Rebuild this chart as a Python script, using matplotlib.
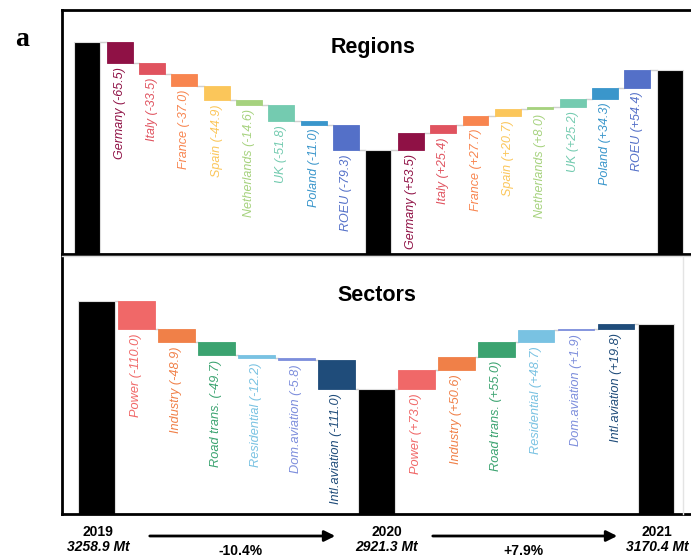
import matplotlib.pyplot as plt
from matplotlib.lines import Line2D

# emissions totals (Mt)
total_2019 = 3258.9
total_2020 = 2921.3
total_2021 = 3170.4
change_labels = ["-10.4%", "+7.9%"]

regions = ["Germany", "Italy", "France", "Spain", "Netherlands", "UK", "Poland", "ROEU"]
region_drop = [-65.5, -33.5, -37.0, -44.9, -14.6, -51.8, -11.0, -79.3]
region_rise = [53.5, 25.4, 27.7, 20.7, 8.0, 25.2, 34.3, 54.4]
region_colors = ["#8f1145", "#e0535f", "#f8854f", "#fbc65a", "#a6d27e", "#74cbb0", "#3a96cb", "#5470c8"]

sectors = ["Power", "Industry", "Road trans.", "Residential", "Dom.aviation", "Intl.aviation"]
sector_drop = [-110.0, -48.9, -49.7, -12.2, -5.8, -111.0]
sector_rise = [73.0, 50.6, 55.0, 48.7, 1.9, 19.8]
sector_colors = ["#f06868", "#f08048", "#3ba370", "#79c2e2", "#7d8edc", "#1f4c7a"]

W, H = 691, 558
plt.rcParams["font.family"] = ["Liberation Sans", "DejaVu Sans"]


def waterfall(ax, names, drops, rises, colors, width, label_size):
    x = 0
    level = total_2019
    levels = []
    ax.bar(x, total_2019, width=width, color="black", edgecolor="#dddddd", lw=0.8)
    levels.append((x, level))
    for group, sign in ((drops, "-"), (rises, "+")):
        for name, d, c in zip(names, group, colors):
            x += 1
            bottom = min(level, level + d)
            ax.bar(x, abs(d), bottom=bottom, width=width, color=c,
                   edgecolor=c, lw=0.6)
            ax.annotate(f"{name} ({sign}{abs(d):.1f})", (x, bottom),
                        xytext=(0, -3), textcoords="offset points",
                        rotation=90, ha="center", va="top", color=c,
                        style="italic", fontsize=label_size)
            level += d
            levels.append((x, level))
        x += 1
        end = total_2020 if sign == "-" else total_2021
        ax.bar(x, end, width=width, color="black", edgecolor="#dddddd", lw=0.8)
        level = end
        levels.append((x, level))
    # connector lines
    for (x0, y0), (x1, _) in zip(levels[:-1], levels[1:]):
        ax.plot([x0 + width / 2, x1 - width / 2], [y0, y0], color="#d0d0d0", lw=1, zorder=0)
    return x


fig = plt.figure(figsize=(W / 100, H / 100), dpi=100)

ax1 = fig.add_axes([62 / W, 1 - 254 / H, 629 / W, 244 / H])
n1 = waterfall(ax1, regions, region_drop, region_rise, region_colors, 0.8, 9)
ax1.set_xlim(-0.78, n1 + 0.66)
ax1.set_ylim(2596, 3359)
ax1.set_title("Regions", fontsize=15.5, fontweight="bold", x=0.494, y=0.79)

ax2 = fig.add_axes([62 / W, 1 - 514 / H, 629 / W, 258 / H])
n2 = waterfall(ax2, sectors, sector_drop, sector_rise, sector_colors, 0.92, 9.2)
ax2.set_xlim(-0.86, n2 + 0.875)
ax2.set_ylim(2443, 3430)
ax2.set_title("Sectors", fontsize=15.5, fontweight="bold", x=0.5, y=0.795)

for ax in (ax1, ax2):
    ax.set_xticks([])
    ax.set_yticks([])
    for s in ax.spines.values():
        s.set_linewidth(2)
        s.set_color("black")
    ax.spines["right"].set_visible(False)
ax2.spines["top"].set_color("#dddddd")
ax2.spines["top"].set_linewidth(1)
fig.add_artist(Line2D([683 / W, 683 / W], [1 - 514 / H, 1 - 257 / H], color="#e4e4e4", lw=1))


# bottom annotations
def ftext(px, py, s, **kw):
    fig.text(px / W, 1 - py / H, s, ha="center", va="center", **kw)


for px, year, tot in ((98, "2019", total_2019), (387, "2020", total_2020), (657, "2021", total_2021)):
    ftext(px, 532, year, fontsize=10, fontweight="bold")
    ftext(px, 547, f"{tot:.1f} Mt", fontsize=10, fontweight="bold", style="italic")

for x0, x1, lab in ((147, 338, change_labels[0]), (430, 620, change_labels[1])):
    fig.add_artist(plt.Annotation("", xy=(x1 / W, 1 - 536 / H), xytext=(x0 / W, 1 - 536 / H),
                                  xycoords="figure fraction", textcoords="figure fraction",
                                  arrowprops=dict(arrowstyle="-|>", lw=2, color="black",
                                                  mutation_scale=16)))
    ftext((x0 + x1) / 2 - 2, 551, lab, fontsize=10, fontweight="bold")

fig.text(22 / W, 1 - 40 / H, "a", ha="center", va="center", fontsize=20,
         fontweight="bold", family="Liberation Serif")

fig.savefig("out.png", dpi=100)
